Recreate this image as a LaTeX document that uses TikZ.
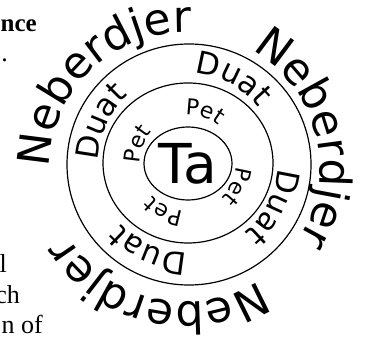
\documentclass[tikz,border=0pt]{standalone}
\usepackage{fontspec}
\usetikzlibrary{decorations.text,shapes.geometric}
\newfontfamily\dvs{DejaVu Sans}
\newfontfamily\tms{Liberation Serif}
\newcommand\fneb{\dvs\fontsize{44}{44}\selectfont}
\newcommand\fduat{\dvs\fontsize{31}{31}\selectfont}
\newcommand\fpet{\dvs\fontsize{22}{22}\selectfont}
\newcommand\ringtxt[5]{%
  \pgfmathsetmacro\ringA{#2+60}\pgfmathsetmacro\ringB{#2-60}%
  \path[decorate,decoration={text along path,text align=center,text={|#4|#5}}]
    ([shift={#1}]\ringA:#3) arc[start angle=\ringA,end angle=\ringB,radius=#3];}
\begin{document}
\begin{tikzpicture}[x=1pt,y=1pt,
  ring/.style={line width=1.2pt},
  pagetxt/.style={inner sep=0pt,anchor=base east,font=\tms\fontsize{26}{30}\selectfont}]
\useasboundingbox (0,0) rectangle (366,345);
\coordinate (c) at (188,182);
\coordinate (co) at (185,177.5);
% rings
\draw[ring] (189,180.5) ellipse [x radius=122, y radius=120.5];
\draw[ring] (188,182) ellipse [x radius=85, y radius=80];
\node (ta) [draw,ring,ellipse,inner sep=0pt,minimum width=88,minimum height=73,
  font=\dvs\fontsize{55}{55}\selectfont] at (188,181.5) {Ta};
% ring texts
\ringtxt{(co)}{133.5}{135}{\fneb}{Neberdjer}
\ringtxt{(co)}{14}{135}{\fneb}{Neberdjer}
\ringtxt{(co)}{-103}{135}{\fneb}{Neberdjer}
\ringtxt{(c)}{155}{90}{\fduat}{Duat}
\ringtxt{(c)}{62}{90}{\fduat}{Duat}
\ringtxt{(c)}{-27}{90}{\fduat}{Duat}
\ringtxt{(c)}{-114}{90}{\fduat}{Duat}
\ringtxt{(c)}{72}{48}{\fpet}{Pet}
\ringtxt{(c)}{160}{48}{\fpet}{Pet}
\ringtxt{(c)}{-25}{48}{\fpet}{Pet}
\ringtxt{(c)}{-117}{48}{\fpet}{Pet}
% page text fragments
\node (p1) [pagetxt,font=\tms\bfseries\fontsize{25}{30}\selectfont] at (37,313) {nce};
\node (p2) [pagetxt] at (8,283) {.};
\node (p3) [pagetxt] at (7,72) {l};
\node (p4) [pagetxt] at (20,42) {ch};
\node (p5) [pagetxt] at (43,12) {n of};
\end{tikzpicture}
\end{document}
